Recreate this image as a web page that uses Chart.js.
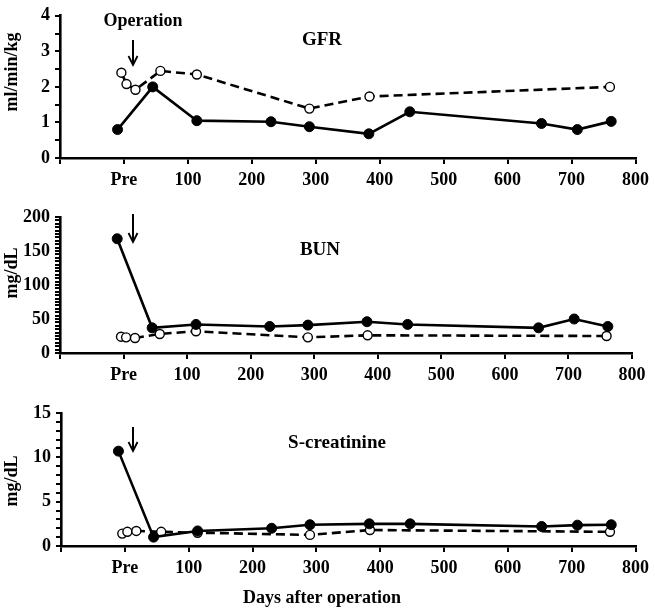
<!DOCTYPE html>
<html>
<head>
<meta charset="utf-8">
<script src="https://cdn.jsdelivr.net/npm/chart.js@4"></script>
<style>
  body { margin: 0; background: #fff; }
  #wrap { position: relative; width: 655px; height: 608px; }
  canvas { position: absolute; left: 0; }
</style>
</head>
<body>
<div id="wrap">
  <canvas id="gfr" width="655" height="195" style="top:0"></canvas>
  <canvas id="bun" width="655" height="195" style="top:195px"></canvas>
  <canvas id="scr" width="655" height="218" style="top:390px"></canvas>
</div>
<script>
// days after operation (negative = pre-operative)
const patientDays = [-10, 45, 114, 230, 290, 383, 447, 653, 709, 762];
const controlDays = [-4, 4, 18, 57, 114, 290, 384, 760];

const gfrPatient = [0.8, 2.0, 1.05, 1.02, 0.88, 0.68, 1.3, 0.97, 0.8, 1.03];
const gfrControl = [2.4, 2.08, 1.92, 2.45, 2.35, 1.39, 1.73, 2.0];

const bunPatient = [168, 37, 42, 39, 41, 46, 42, 37, 50, 39];
const bunControl = [24, 23, 22, 28, 32, 23, 26, 25];

const scrPatient = [10.7, 1.0, 1.7, 2.0, 2.4, 2.5, 2.5, 2.2, 2.35, 2.4];
const scrControl = [1.4, 1.6, 1.7, 1.6, 1.5, 1.25, 1.8, 1.6];

const xTicks = [-100, 0, 100, 200, 300, 400, 500, 600, 700, 800];
const xTickLabels = ["", "Pre", "100", "200", "300", "400", "500", "600", "700", "800"];

const FONT = "'Liberation Serif', 'Times New Roman', serif";

function pts(xs, ys) {
    return xs.map((x, i) => ({ x: x, y: ys[i] }));
}

const decorPlugin = {
    id: "decor",
    afterDraw(chart, args, opts) {
        const ctx = chart.ctx;
        ctx.save();
        ctx.fillStyle = "#000";
        ctx.strokeStyle = "#000";
        ctx.font = "bold 19px " + FONT;
        ctx.textAlign = "center";
        ctx.textBaseline = "alphabetic";
        ctx.fillText(opts.title, opts.titleX, opts.titleY);

        ctx.font = "bold 18px " + FONT;
        (opts.texts || []).forEach(t => ctx.fillText(t.text, t.x, t.y));

        // arrow
        const a = opts.arrow;
        ctx.lineWidth = 2;
        ctx.beginPath();
        ctx.moveTo(a.x, a.y1);
        ctx.lineTo(a.x, a.y2 - 2);
        ctx.stroke();
        ctx.beginPath();
        ctx.moveTo(a.x - 4.5, a.y2 - 9);
        ctx.lineTo(a.x, a.y2);
        ctx.lineTo(a.x + 4.5, a.y2 - 9);
        ctx.lineWidth = 1.8;
        ctx.stroke();

        // y axis title
        ctx.translate(opts.yTitleX, opts.yTitleY);
        ctx.rotate(-Math.PI / 2);
        ctx.textBaseline = "middle";
        ctx.font = "bold 18px " + FONT;
        ctx.fillText(opts.yTitle, 0, 0);
        ctx.restore();
    }
};

function makePanel(id, cfg) {
    new Chart(document.getElementById(id), {
        type: "scatter",
        data: {
            datasets: [
                {
                    data: pts(patientDays, cfg.patient),
                    showLine: true,
                    borderColor: "#000",
                    borderWidth: 2.6,
                    pointRadius: 5,
                    pointBackgroundColor: "#000",
                    pointBorderColor: "#000",
                    pointBorderWidth: 1
                },
                {
                    data: pts(controlDays, cfg.control),
                    showLine: true,
                    borderColor: "#000",
                    borderWidth: 2.6,
                    borderDash: [9, 5],
                    pointRadius: 4.5,
                    pointBackgroundColor: "#fff",
                    pointBorderColor: "#000",
                    pointBorderWidth: 1.4
                }
            ]
        },
        options: {
            responsive: false,
            animation: false,
            devicePixelRatio: 1,
            layout: { padding: { left: 0, right: cfg.padRight, top: cfg.padTop, bottom: 0 } },
            plugins: {
                legend: { display: false },
                tooltip: { enabled: false },
                decor: cfg.decor
            },
            scales: {
                x: {
                    type: "linear",
                    min: -100,
                    max: 800,
                    afterBuildTicks: s => { s.ticks = xTicks.map(v => ({ value: v })); },
                    afterFit: s => { s.height = cfg.xHeight; },
                    ticks: {
                        autoSkip: false,
                        maxRotation: 0,
                        padding: 6,
                        color: "#000",
                        font: { family: FONT, size: 18, weight: "bold" },
                        callback: v => xTickLabels[xTicks.indexOf(v)]
                    },
                    grid: { drawOnChartArea: false, color: "#000", lineWidth: 2, tickLength: 6 },
                    border: { color: "#000", width: 2.6 }
                },
                y: {
                    min: 0,
                    max: cfg.yMax,
                    afterFit: s => { s.width = cfg.yWidth; },
                    ticks: {
                        stepSize: cfg.minorStep,
                        autoSkip: false,
                        padding: 5,
                        color: "#000",
                        font: { family: FONT, size: 18, weight: "bold" },
                        callback: v => (Math.abs(v / cfg.majorStep - Math.round(v / cfg.majorStep)) < 1e-6 ? v : "")
                    },
                    grid: { drawOnChartArea: false, color: "#000", lineWidth: 2, tickLength: 5 },
                    border: { color: "#000", width: 2.6 }
                }
            }
        },
        plugins: [decorPlugin]
    });
}

makePanel("gfr", {
    patient: gfrPatient, control: gfrControl,
    yMax: 4, minorStep: 0.5, majorStep: 1,
    padTop: 8, padRight: 18, xHeight: 37, yWidth: 60,
    decor: {
        title: "GFR", titleX: 322, titleY: 45,
        texts: [{ text: "Operation", x: 143, y: 26 }],
        arrow: { x: 133, y1: 40, y2: 65 },
        yTitle: "ml/min/kg", yTitleX: 12, yTitleY: 72
    }
});

makePanel("bun", {
    patient: bunPatient, control: bunControl,
    yMax: 200, minorStep: 5, majorStep: 50,
    padTop: 22, padRight: 23, xHeight: 37, yWidth: 60,
    decor: {
        title: "BUN", titleX: 320, titleY: 60,
        texts: [],
        arrow: { x: 133, y1: 19, y2: 47 },
        yTitle: "mg/dL", yTitleX: 12, yTitleY: 78
    }
});

makePanel("scr", {
    patient: scrPatient, control: scrControl,
    yMax: 15, minorStep: 1, majorStep: 5,
    padTop: 23, padRight: 17, xHeight: 62, yWidth: 61,
    decor: {
        title: "S-creatinine", titleX: 337, titleY: 58,
        texts: [{ text: "Days after operation", x: 322, y: 213 }],
        arrow: { x: 133, y1: 37, y2: 61 },
        yTitle: "mg/dL", yTitleX: 12, yTitleY: 91
    }
});
</script>
</body>
</html>
